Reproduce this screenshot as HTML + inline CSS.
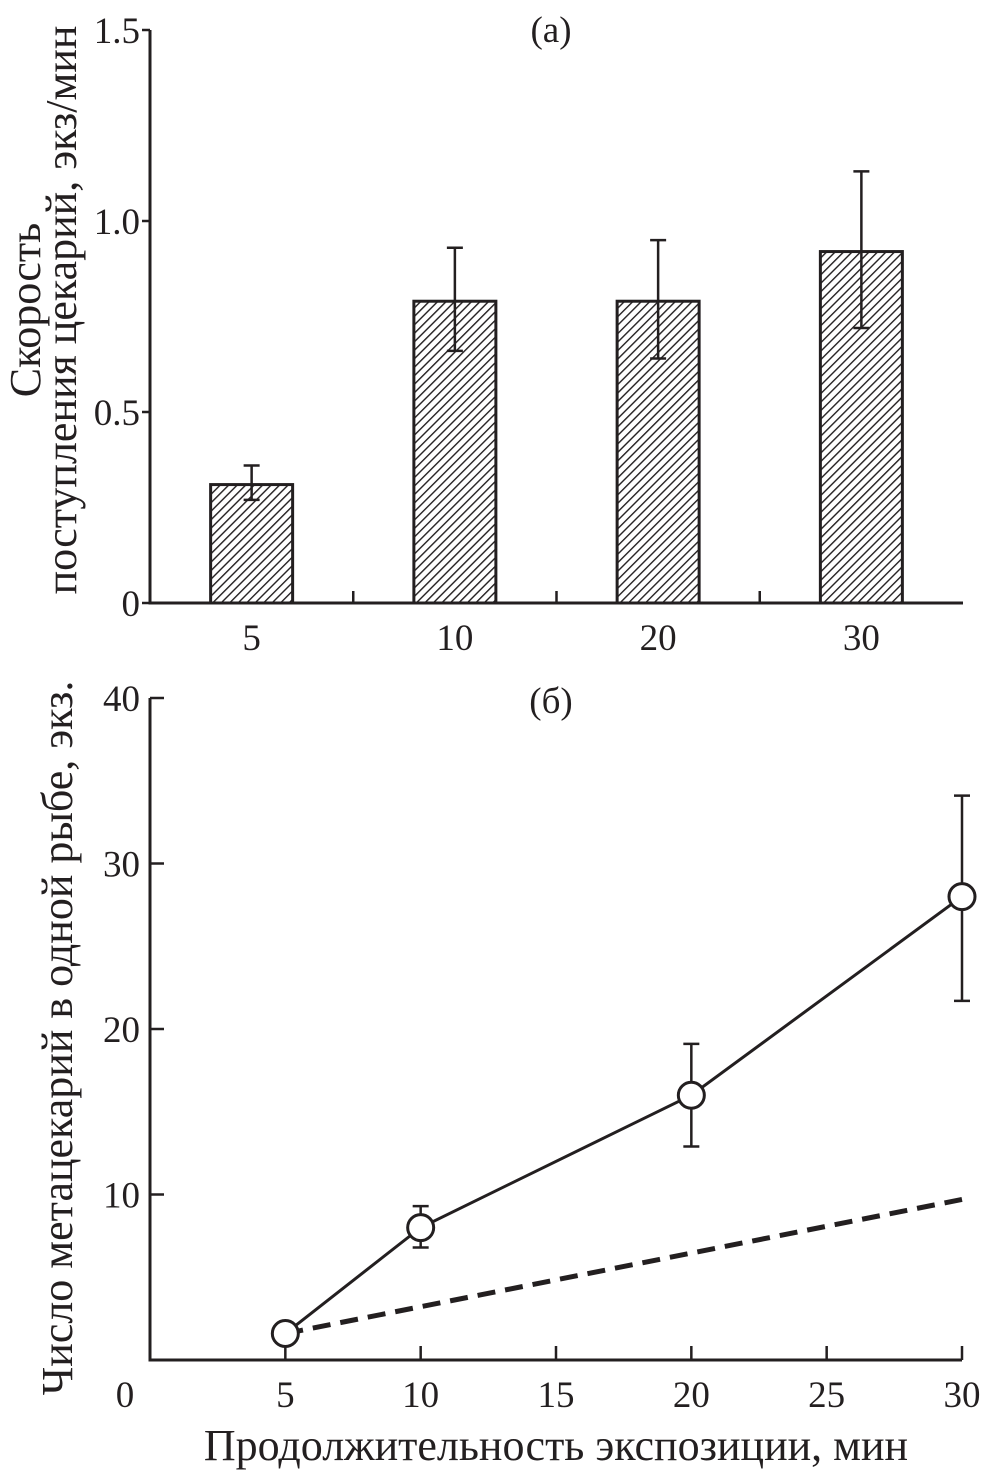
<!DOCTYPE html>
<html><head><meta charset="utf-8"><style>
html,body{margin:0;padding:0;background:#fff}
svg{display:block}
text{font-family:"Liberation Serif",serif;fill:#231f20}
</style></head><body>
<svg id="chart" width="994" height="1472" viewBox="0 0 994 1472">
<defs>
<pattern id="hatch" patternUnits="userSpaceOnUse" width="6" height="6" patternTransform="rotate(45)">
<rect width="6" height="6" fill="#fff"/>
<line x1="0" y1="0" x2="0" y2="6" stroke="#231f20" stroke-width="2.8"/>
</pattern>
</defs>
<g id="topPlot"></g>
<g id="botPlot"></g>
</svg>
<script>
const catsA = ["5","10","20","30"];
const valsA = [0.31,0.79,0.79,0.92];
const errHiA = [0.36,0.93,0.95,1.13];
const errLoA = [0.27,0.66,0.64,0.72];
const yTicksA = [0,0.5,1.0,1.5];
const yTickLabelsA = ["0","0.5","1.0","1.5"];

const xB = [5,10,20,30];
const yB = [1.6,8,16,28];
const errHiB = [1.6,9.3,19.1,34.1];
const errLoB = [1.6,6.8,12.9,21.7];
const dashX = [5,30];
const dashY = [1.6,9.7];
const xTicksB = [0,5,10,15,20,25,30];
const yTicksB = [10,20,30,40];

const NS="http://www.w3.org/2000/svg";
function mk(p,t,a){const e=document.createElementNS(NS,t);for(const k in a)e.setAttribute(k,a[k]);p.appendChild(e);return e;}
const C="#231f20";
const TF=37, AF=44;

// chart A
const gA=document.getElementById('topPlot');
const ax0=150, ax1=963, ay0=603, ay1=30;
const yA=v=>ay0-(v/1.5)*(ay0-ay1);
const bandW=(ax1-ax0)/4;
const xA=i=>ax0+bandW*(i+0.5);
let e;
for(let i=0;i<catsA.length;i++){
  const cx=xA(i), w=82;
  e=mk(gA,'rect',{x:cx-w/2,y:yA(valsA[i]),width:w,height:ay0-yA(valsA[i]),fill:'url(#hatch)',stroke:C,'stroke-width':3});
  
  
  e=mk(gA,'path',{d:`M${cx},${yA(errHiA[i])}V${yA(errLoA[i])}M${cx-8},${yA(errHiA[i])}H${cx+8}M${cx-8},${yA(errLoA[i])}H${cx+8}`,stroke:C,'stroke-width':2.5,fill:'none'});
  
  
  e=mk(gA,'text',{x:cx,y:650,'font-size':TF,'text-anchor':'middle'});e.textContent=catsA[i];
  
  
  if(i>0){mk(gA,'line',{x1:ax0+bandW*i,x2:ax0+bandW*i,y1:ay0,y2:ay0-12,stroke:C,'stroke-width':2.5});}
}
mk(gA,'path',{d:`M${ax0},${ay1}V${ay0}H${ax1}`,stroke:C,'stroke-width':3,fill:'none'});
yTicksA.forEach((v,i)=>{
  mk(gA,'line',{x1:ax0-8,x2:ax0,y1:yA(v),y2:yA(v),stroke:C,'stroke-width':2.5});
  e=mk(gA,'text',{x:140,y:yA(v)+13,'font-size':TF,'text-anchor':'end'});e.textContent=yTickLabelsA[i];
  
  
});
e=mk(gA,'text',{x:551,y:42,'font-size':TF,'text-anchor':'middle'});e.textContent="(a)";

e=mk(gA,'text',{x:0,y:0,'font-size':AF,'text-anchor':'middle',transform:'translate(40,310) rotate(-90)'});e.textContent="Скорость";

e=mk(gA,'text',{x:0,y:0,'font-size':AF,'text-anchor':'middle',transform:'translate(76,310) rotate(-90)'});e.textContent="поступления цекарий, экз/мин";


// chart B
const gB=document.getElementById('botPlot');
const bx0=150, bx1=962, by0=1360, by1=698;
const sx=v=>bx0+v/30*(bx1-bx0);
const sy=v=>by0-v/40*(by0-by1);
mk(gB,'path',{d:`M${bx0},${by1}V${by0}H${bx1}`,stroke:C,'stroke-width':3,fill:'none'});
xTicksB.forEach(v=>{
  if(v>0)mk(gB,'line',{x1:sx(v),x2:sx(v),y1:by0,y2:by0-14,stroke:C,'stroke-width':2.5});
  e=mk(gB,'text',{x:v===0?125:sx(v),y:1407,'font-size':TF,'text-anchor':'middle'});e.textContent=v;
  
});
yTicksB.forEach(v=>{
  mk(gB,'line',{x1:bx0,x2:bx0+14,y1:sy(v),y2:sy(v),stroke:C,'stroke-width':2.5});
  e=mk(gB,'text',{x:140,y:sy(v)+13,'font-size':TF,'text-anchor':'end'});e.textContent=v;
  
});
e=mk(gB,'line',{x1:sx(dashX[0]),y1:sy(dashY[0]),x2:sx(dashX[1]),y2:sy(dashY[1]),stroke:C,'stroke-width':5,'stroke-dasharray':'18 10'});

e=mk(gB,'polyline',{points:xB.map((x,i)=>sx(x)+','+sy(yB[i])).join(' '),stroke:C,'stroke-width':3,fill:'none'});

for(let i=0;i<xB.length;i++){
  const cx=sx(xB[i]);
  if(errHiB[i]!==errLoB[i]){
    e=mk(gB,'path',{d:`M${cx},${sy(errHiB[i])}V${sy(errLoB[i])}M${cx-8},${sy(errHiB[i])}H${cx+8}M${cx-8},${sy(errLoB[i])}H${cx+8}`,stroke:C,'stroke-width':2.5,fill:'none'});
    
  }
  e=mk(gB,'circle',{cx:cx,cy:sy(yB[i]),r:13,fill:'#fff',stroke:C,'stroke-width':3});
  
}
e=mk(gB,'text',{x:551,y:713,'font-size':TF,'text-anchor':'middle'});e.textContent="(б)";

e=mk(gB,'text',{x:0,y:0,'font-size':AF,'text-anchor':'middle',transform:'translate(72,1038) rotate(-90)'});e.textContent="Число метацекарий в одной рыбе, экз.";

e=mk(gB,'text',{x:556,y:1460,'font-size':AF,'text-anchor':'middle'});e.textContent="Продолжительность экспозиции, мин";

</script>
</body></html>
